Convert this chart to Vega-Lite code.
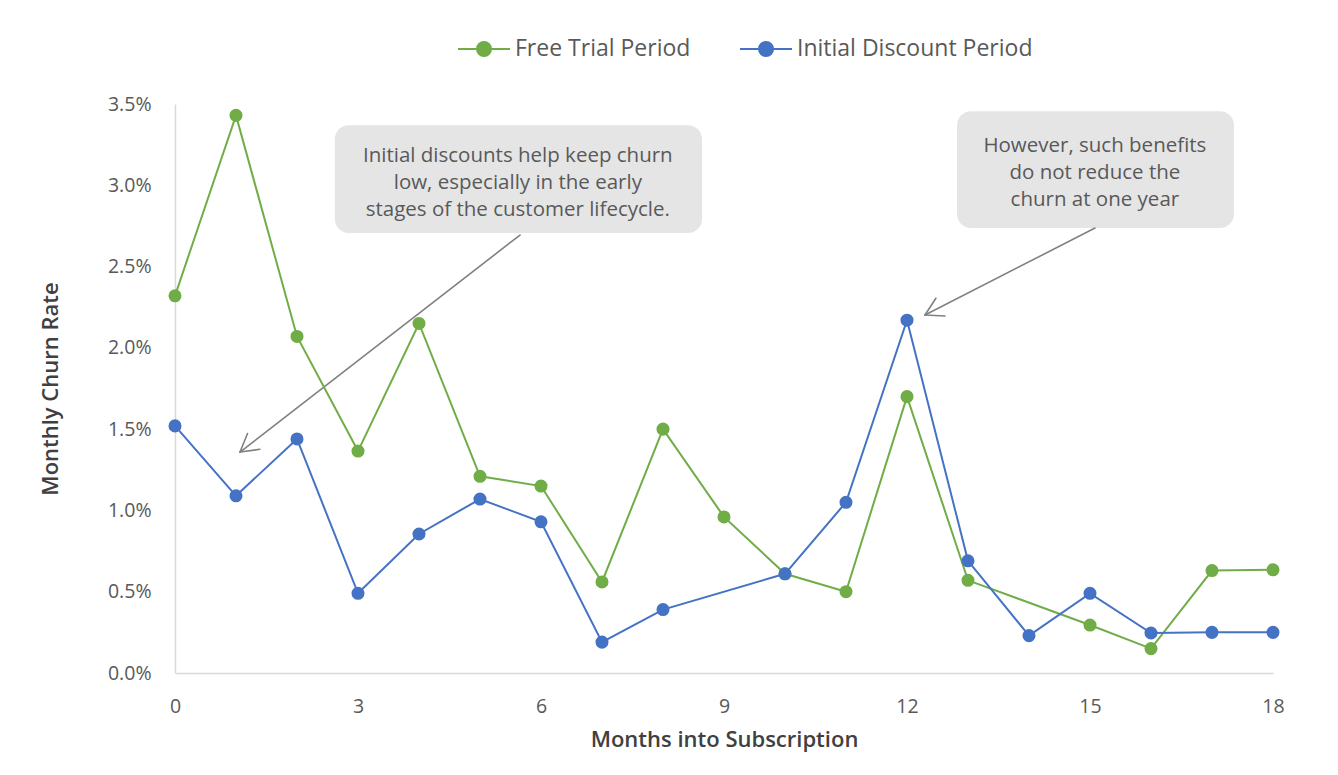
{
  "$schema": "https://vega.github.io/schema/vega-lite/v6.json",
  "width": 1098,
  "height": 569,
  "autosize": {"type": "none"},
  "padding": {"left": 175, "top": 104, "right": 65, "bottom": 102},
  "background": "white",
  "config": {
    "view": {"stroke": null},
    "font": "Open Sans",
    "axis": {
      "domainColor": "#d9d9d9",
      "domainWidth": 1.5,
      "ticks": false,
      "grid": false,
      "labelFlush": false,
      "labelFont": "Open Sans",
      "labelFontSize": 19.5,
      "labelColor": "#595959",
      "titleFont": "Open Sans",
      "titleFontSize": 22,
      "titleColor": "#404040",
      "titleFontWeight": 600
    }
  },
  "datasets": {
    "series": [
      {"m": 0, "s": "Free Trial Period", "v": 0.0232},
      {"m": 1, "s": "Free Trial Period", "v": 0.0343},
      {"m": 2, "s": "Free Trial Period", "v": 0.0207},
      {"m": 3, "s": "Free Trial Period", "v": 0.01365},
      {"m": 4, "s": "Free Trial Period", "v": 0.0215},
      {"m": 5, "s": "Free Trial Period", "v": 0.0121},
      {"m": 6, "s": "Free Trial Period", "v": 0.0115},
      {"m": 7, "s": "Free Trial Period", "v": 0.0056},
      {"m": 8, "s": "Free Trial Period", "v": 0.015},
      {"m": 9, "s": "Free Trial Period", "v": 0.0096},
      {"m": 10, "s": "Free Trial Period", "v": 0.0061},
      {"m": 11, "s": "Free Trial Period", "v": 0.0050},
      {"m": 12, "s": "Free Trial Period", "v": 0.0170},
      {"m": 13, "s": "Free Trial Period", "v": 0.0057},
      {"m": 15, "s": "Free Trial Period", "v": 0.00295},
      {"m": 16, "s": "Free Trial Period", "v": 0.0015},
      {"m": 17, "s": "Free Trial Period", "v": 0.0063},
      {"m": 18, "s": "Free Trial Period", "v": 0.00635},
      {"m": 0, "s": "Initial Discount Period", "v": 0.0152},
      {"m": 1, "s": "Initial Discount Period", "v": 0.0109},
      {"m": 2, "s": "Initial Discount Period", "v": 0.0144},
      {"m": 3, "s": "Initial Discount Period", "v": 0.0049},
      {"m": 4, "s": "Initial Discount Period", "v": 0.00855},
      {"m": 5, "s": "Initial Discount Period", "v": 0.0107},
      {"m": 6, "s": "Initial Discount Period", "v": 0.0093},
      {"m": 7, "s": "Initial Discount Period", "v": 0.0019},
      {"m": 8, "s": "Initial Discount Period", "v": 0.0039},
      {"m": 10, "s": "Initial Discount Period", "v": 0.0061},
      {"m": 11, "s": "Initial Discount Period", "v": 0.0105},
      {"m": 12, "s": "Initial Discount Period", "v": 0.0217},
      {"m": 13, "s": "Initial Discount Period", "v": 0.0069},
      {"m": 14, "s": "Initial Discount Period", "v": 0.0023},
      {"m": 15, "s": "Initial Discount Period", "v": 0.0049},
      {"m": 16, "s": "Initial Discount Period", "v": 0.00246},
      {"m": 17, "s": "Initial Discount Period", "v": 0.0025},
      {"m": 18, "s": "Initial Discount Period", "v": 0.0025}
    ],
    "boxes": [
      {"x": 2.62, "x2": 8.64, "y": 0.0337, "y2": 0.02706, "tx": 5.62, "ty": 0.0318, "label": ["Initial discounts help keep churn", "low, especially in the early", "stages of the customer lifecycle."]},
      {"x": 12.82, "x2": 17.36, "y": 0.03456, "y2": 0.02737, "tx": 15.08, "ty": 0.03242, "label": ["However, such benefits", "do not reduce the", "churn at one year"]}
    ],
    "arrows": [
      {"x": 5.656, "y": 0.02694, "x2": 1.066, "y2": 0.01359},
      {"x": 1.066, "y": 0.01359, "x2": 1.39, "y2": 0.01376},
      {"x": 1.066, "y": 0.01359, "x2": 1.189, "y2": 0.01473},
      {"x": 15.082, "y": 0.02737, "x2": 12.295, "y2": 0.02202},
      {"x": 12.295, "y": 0.02202, "x2": 12.623, "y2": 0.02196},
      {"x": 12.295, "y": 0.02202, "x2": 12.474, "y2": 0.02305}
    ]
  },
  "layer": [
    {
      "data": {"name": "boxes"},
      "mark": {"type": "rect", "fill": "#e5e5e5", "cornerRadius": 14},
      "encoding": {
        "x": {"field": "x", "type": "quantitative", "scale": {"domain": [0, 18]}},
        "x2": {"field": "x2"},
        "y": {"field": "y", "type": "quantitative", "scale": {"domain": [0, 0.035]}},
        "y2": {"field": "y2"}
      }
    },
    {
      "data": {"name": "boxes"},
      "mark": {"type": "text", "fontSize": 20.5, "color": "#595959", "font": "Open Sans", "lineHeight": 27, "align": "center", "baseline": "middle"},
      "encoding": {
        "x": {"field": "tx", "type": "quantitative"},
        "y": {"field": "ty", "type": "quantitative"},
        "text": {"field": "label"}
      }
    },
    {
      "data": {"name": "arrows"},
      "mark": {"type": "rule", "color": "#808080", "strokeWidth": 1.6, "strokeCap": "round"},
      "encoding": {
        "x": {"field": "x", "type": "quantitative"},
        "y": {"field": "y", "type": "quantitative"},
        "x2": {"field": "x2"},
        "y2": {"field": "y2"}
      }
    },
    {
      "data": {"name": "series"},
      "mark": {"type": "line", "strokeWidth": 2, "point": {"filled": true, "size": 170}},
      "encoding": {
        "x": {
          "field": "m", "type": "quantitative",
          "scale": {"domain": [0, 18], "nice": false},
          "axis": {"values": [0, 3, 6, 9, 12, 15, 18], "format": "d", "title": "Months into Subscription", "labelPadding": 24, "titlePadding": 14}
        },
        "y": {
          "field": "v", "type": "quantitative",
          "scale": {"domain": [0, 0.035], "nice": false},
          "axis": {"values": [0, 0.005, 0.01, 0.015, 0.02, 0.025, 0.03, 0.035], "format": ".1%", "title": "Monthly Churn Rate", "labelPadding": 24, "titlePadding": 45}
        },
        "color": {
          "field": "s", "type": "nominal",
          "scale": {"domain": ["Free Trial Period", "Initial Discount Period"], "range": ["#70ad47", "#4472c4"]},
          "legend": {
            "title": null,
            "orient": "none",
            "direction": "horizontal",
            "legendX": 282,
            "legendY": -82,
            "labelFont": "Open Sans",
            "labelFontSize": 23,
            "labelColor": "#595959",
            "labelLimit": 400,
            "symbolType": "M-1,0H1M-0.27,0A0.27,0.27 0 1,1 0.27,0A0.27,0.27 0 1,1 -0.27,0Z",
            "symbolSize": 2704,
            "symbolStrokeWidth": 2,
            "labelOffset": 4,
            "columnPadding": 45,
            "encode": {
              "symbols": {
                "update": {
                  "fill": {"scale": "color", "field": "value"},
                  "stroke": {"scale": "color", "field": "value"},
                  "opacity": {"value": 1}
                }
              }
            }
          }
        }
      }
    }
  ]
}
